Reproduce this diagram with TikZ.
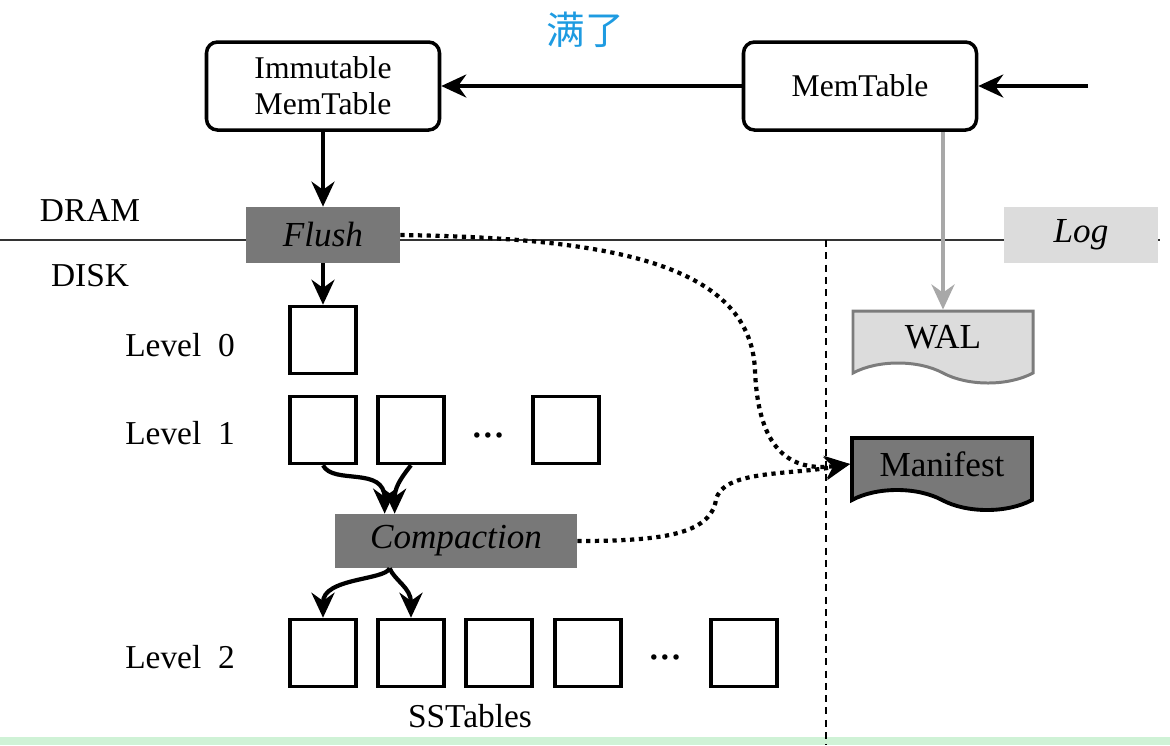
\documentclass[tikz,border=0pt]{standalone}
\usepackage{fontspec}
\setmainfont{Liberation Serif}
\newfontfamily\cjkfont{Noto Sans CJK SC}
\usepackage{tikz}
\usetikzlibrary{arrows.meta,calc,positioning,shapes.symbols}
\definecolor{opgray}{HTML}{787878}
\definecolor{logfill}{HTML}{DCDCDC}
\definecolor{walborder}{HTML}{7C7C7C}
\definecolor{walarrow}{HTML}{A8A8A8}
\definecolor{titleblue}{HTML}{1E9BE1}
\definecolor{stripgreen}{HTML}{CFF2D6}

\begin{document}
\begin{tikzpicture}[x=0.2mm,y=-0.2mm,
	memtab/.style={draw,line width=2pt,rounded corners=2.2mm,minimum width=46.6mm,minimum height=17.6mm,align=center,font=\fontsize{18}{20.5}\selectfont},
	opbox/.style={fill=opgray,minimum width=30.8mm,minimum height=11.2mm,font=\fontsize{20}{24}\selectfont\itshape},
	sst/.style={draw,line width=2pt,minimum width=13.2mm,minimum height=13.4mm},
	lbl/.style={font=\fontsize{19}{22}\selectfont},
	doc/.style={shape=tape,tape bend top=none,tape bend bottom=out and in,tape bend height=4mm,minimum width=36mm,minimum height=14.4mm,font=\fontsize{20}{22}\selectfont},
	arr/.style={-{Stealth[length=5mm,width=4.6mm]},line width=2.2pt},
	dotline/.style={line width=2.4pt,dash pattern=on 2.4pt off 2.6pt}]
		\useasboundingbox (0,0) rectangle (1170,745);
		\fill[stripgreen] (0,737) rectangle (1170,745);
		% DRAM / DISK border
		\draw [line width=1pt,black!80] (0,240) -- (1160,240);
		\draw [line width=1.1pt,dash pattern=on 4pt off 3pt] (826,240) -- (826,745);
		\node [font=\cjkfont\fontsize{22}{24}\selectfont,text=titleblue] (full) at (585,30) {满了};
		\node [lbl](dram) at (90,211) {DRAM};
		\node [lbl](disk) at (90,276) {DISK};
		\node [memtab](imm) at (323,86) {Immutable\\MemTable};
		\node [memtab](mem) at (860,86) {MemTable};
		\coordinate (put) at (1088,86);
		\draw [arr] (put) -- (mem);
		\draw [arr] (mem) -- (imm);
		\node [opbox](flush) at (323,235) {Flush};
		\node [opbox,fill=logfill](log) at (1081,235) {Log};
		\draw [arr] (imm) -- (flush);
		% log files
		\node [doc,draw=walborder,fill=logfill,line width=1.7pt](wal) at (943,337) {WAL};
		\node [doc,draw,fill=opgray,line width=2.2pt](man) at (942,464) {Manifest};
		\draw [arr,walarrow] (wal.north |- mem.south) -- (wal.north);
		% levels
		\node [lbl](lv0) at (180,345) {Level\ \ 0};
		\node [lbl](lv1) at (180,433) {Level\ \ 1};
		\node [lbl](lv2) at (180,657) {Level\ \ 2};
		\node [sst](l0) at (323,340) {};
		\foreach \x/\n in {323/a,411/b,566/c}
			\node [sst](l1\n) at (\x,430) {};
		\foreach \x/\n in {323/a,411/b,499/c,588/d,744/e}
			\node [sst](l2\n) at (\x,653) {};
		\node [lbl](dots1) at (488,440) {\textbf{···}};
		\node [lbl](dots2) at (665,662) {\textbf{···}};
		\node [lbl](sstables) at (470,716) {SSTables};
		\draw [arr] (flush) -- (l0);
		\node [opbox,minimum width=48.4mm,minimum height=10.8mm](comp) at (456,541) {Compaction};
		\draw [arr,line width=2.4pt] (l1a.south) .. controls +(10,20) and +(0,-48) .. ($(comp.north west)+(50,0)$);
		\draw [arr,line width=2.4pt] (l1b.south) .. controls +(-12,15) and +(0,-25) .. ($(comp.north west)+(60,0)$);
		\coordinate (cs) at ($(comp.south west)+(55,0)$);
		\draw [arr,line width=2.4pt] (cs) .. controls +(-5,12) and +(0,-40) .. (l2a.north);
		\draw [arr,line width=2.4pt] (cs) .. controls +(5,12) and +(0,-30) .. (l2b.north);
		% version edits
		\draw [dotline,-{Stealth[length=5mm,width=4.6mm]}] (flush.east) .. controls (600,238) and (750,260) .. (755,370) .. controls (758,450) and (790,472) .. (man.west);
		\draw [dotline,-{Stealth[length=5mm,width=4.6mm]}] (comp.east) .. controls (660,541) and (710,535) .. (716,500) .. controls (722,470) and (790,475) .. (man.west);
\end{tikzpicture}
\end{document}
